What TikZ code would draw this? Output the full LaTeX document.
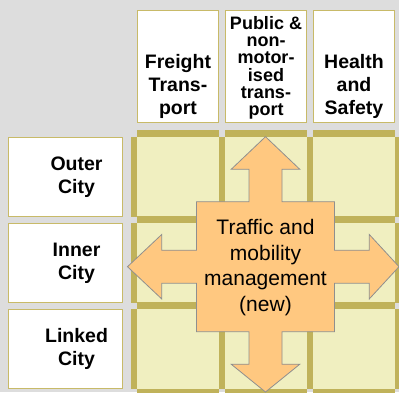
\documentclass[tikz,border=0pt]{standalone}
\usepackage{fontspec}
\setmainfont{Liberation Sans}
\usepackage{tikz}
\usetikzlibrary{positioning}

\definecolor{backgray}{HTML}{DDDDDD}
\definecolor{gridolive}{HTML}{C0B25A}
\definecolor{lineolive}{HTML}{C8BA68}
\definecolor{cellyellow}{HTML}{F0EFC0}
\definecolor{mgmtorange}{HTML}{FFC880}
\definecolor{arrowgray}{HTML}{8F8F8F}

% cells get a thick olive bar on top and on the left
\tikzstyle{cell} = [rectangle, fill=cellyellow, inner sep=0pt,
    minimum width=82pt, minimum height=80pt,
    append after command={\pgfextra{
      \fill[gridolive] (\tikzlastnode.north west) rectangle ([yshift=6.5pt]\tikzlastnode.north east);
      \fill[gridolive] ([xshift=-6pt]\tikzlastnode.north west) rectangle (\tikzlastnode.south west);}}]
\tikzstyle{colhead} = [rectangle, draw=lineolive, line width=1pt, fill=white,
    minimum width=81pt, minimum height=112pt, inner sep=0pt]
\tikzstyle{rowhead} = [rectangle, draw=lineolive, line width=1pt, fill=white,
    minimum width=114.5pt, minimum height=78.5pt, inner sep=0pt]
\tikzstyle{headtext} = [align=center, inner sep=0pt,
    font=\bfseries\fontsize{19.5}{23}\selectfont]
\tikzstyle{smalltext} = [align=center, inner sep=0pt,
    font=\bfseries\fontsize{18}{17.3}\selectfont]
\tikzstyle{mgmttext} = [align=center, inner sep=0pt,
    font=\fontsize{21}{25.7}\selectfont]

\begin{document}
\begin{tikzpicture}[x=1pt, y=-1pt]
\useasboundingbox[fill=backgray] (0,0) rectangle (399,392);
    % Place nodes
    \node [cell] (c11) at (178,177) {};
    \node [cell] (c12) at (266,177) {};
    \node [cell] (c13) at (354,177) {};
    \node [cell] (c21) at (178,263) {};
    \node [cell] (c22) at (266,263) {};
    \node [cell] (c23) at (354,263) {};
    \node [cell] (c31) at (178,349) {};
    \node [cell] (c32) at (266,349) {};
    \node [cell] (c33) at (354,349) {};
    % bars of the next column and row, cut by the page
    \fill [gridolive] (c13.north east) rectangle ([xshift=6pt]c13.south east);
    \fill [gridolive] (c23.north east) rectangle ([xshift=6pt]c23.south east);
    \fill [gridolive] (c33.north east) rectangle ([xshift=6pt]c33.south east);
    \fill [gridolive] (c31.south west) rectangle ([yshift=-6.5pt]c31.south east);
    \fill [gridolive] (c32.south west) rectangle ([yshift=-6.5pt]c32.south east);
    \fill [gridolive] (c33.south west) rectangle ([yshift=-6.5pt]c33.south east);

    \node [colhead, above=13.5pt of c11] (freight) {};
    \node [colhead, above=13.5pt of c12] (public) {};
    \node [colhead, above=13.5pt of c13] (health) {};
    \node [headtext, anchor=south] (freighttxt) at ([yshift=5pt]freight.south) {Freight\\Trans-\\port};
    \node [smalltext, anchor=south] (publictxt) at ([yshift=3.5pt]public.south) {Public \&\\non-\\motor-\\ised\\trans-\\port};
    \node [headtext, anchor=south] (healthtxt) at ([yshift=5pt]health.south) {Health\\and\\Safety};

    \node [rowhead, left=13.5pt of c11] (outer) {};
    \node [rowhead, left=13.5pt of c21] (inner) {};
    \node [rowhead, left=13.5pt of c31] (linked) {};
    \node [headtext] (outertxt) at ([xshift=11pt]outer.center) {Outer\\City};
    \node [headtext] (innertxt) at ([xshift=11pt]inner.center) {Inner\\City};
    \node [headtext] (linkedtxt) at ([xshift=11pt]linked.center) {Linked\\City};

    % Four-way arrow
    \path [draw=arrowgray, fill=mgmtorange, line width=0.8pt]
      (196.5,201.7) -- (249,201.7) -- (249,169.3) -- (231.2,169.3) -- (265.5,136.7)
      -- (299.8,169.3) -- (282,169.3) -- (282,201.7) -- (334.5,201.7) -- (334.5,250.2)
      -- (369.3,250.2) -- (369.3,234.5) -- (399,266.7) -- (369.3,298.9) -- (369.3,283.2)
      -- (334.5,283.2) -- (334.5,331.7) -- (282,331.7) -- (282,364.2) -- (299.8,364.2)
      -- (265.5,392) -- (231.2,364.2) -- (249,364.2) -- (249,331.7) -- (196.5,331.7)
      -- (196.5,283.2) -- (161.7,283.2) -- (161.7,298.9) -- (127.5,266.7) -- (161.7,234.5)
      -- (161.7,250.2) -- (196.5,250.2) -- cycle;
    \node [mgmttext] (mgmt) at (265.5,267.5) {Traffic and\\mobility\\management\\(new)};
\end{tikzpicture}
\end{document}
